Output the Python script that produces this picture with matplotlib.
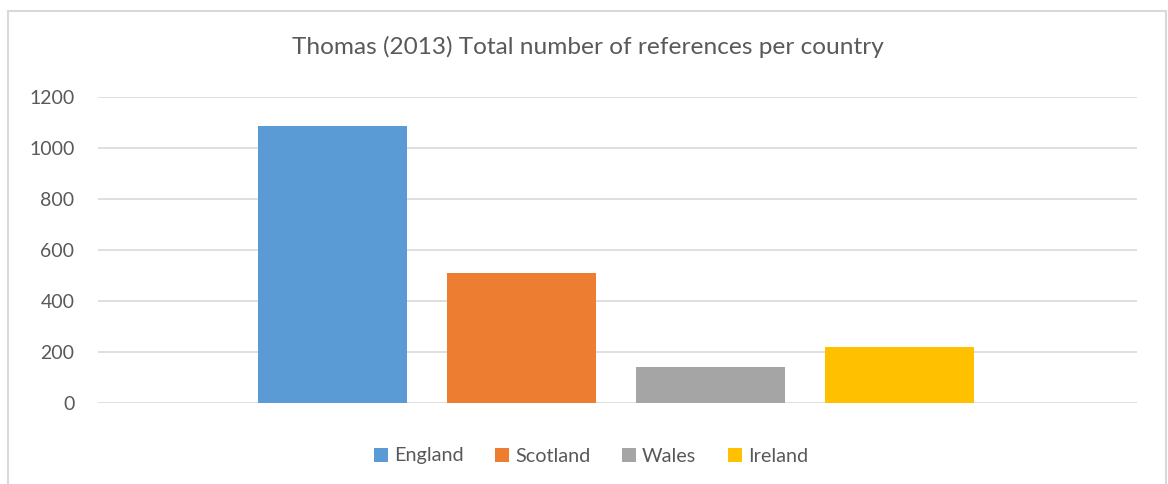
import matplotlib
matplotlib.use('Agg')
import matplotlib.pyplot as plt
from matplotlib.patches import Rectangle, Patch

plt.rcParams['font.family'] = ['Lato', 'DejaVu Sans']

TITLE = 'Thomas (2013) Total number of references per country'
countries = ['England', 'Scotland', 'Wales', 'Ireland']
counts = [1086, 511, 143, 221]
colors = ['#5b9bd5', '#ed7d31', '#a5a5a5', '#ffc000']
yticks = [0, 200, 400, 600, 800, 1000, 1200]

TXT = '#595959'
GRID = '#d9d9d9'
W, H = 1168, 484

fig = plt.figure(figsize=(W / 100, H / 100), dpi=100)
fig.patch.set_facecolor('white')

# chart frame (bottom edge is outside the picture)
fig.patches.append(Rectangle((8 / W, -0.05), (1165.5 - 8) / W, 1.05 - 11 / H,
                             transform=fig.transFigure, fill=False,
                             edgecolor=GRID, lw=1.5))

ax = fig.add_axes([98 / W, (H - 403.3) / H, (1137 - 98) / W, (403.3 - 96.7) / H])
x = list(range(len(countries)))
ax.bar(x, counts, width=149 / 189, color=colors, zorder=3)
ax.set_xlim(-235 / 189, 3 + 237.5 / 189)
ax.set_ylim(0, 1200)
ax.set_yticks(yticks)
ax.set_yticklabels([str(t) for t in yticks], fontsize=14, color=TXT)
ax.tick_params(axis='y', length=0, pad=17)
ax.set_xticks([])
ax.grid(axis='y', color=GRID, lw=1.2, zorder=0)
for s in ax.spines.values():
    s.set_visible(False)

fig.text(587.5 / W, 1 - 47 / H, TITLE, ha='center', va='center',
         fontsize=17.6, color=TXT)

handles = [Patch(facecolor=c, label=n) for c, n in zip(colors, countries)]
fig.legend(handles=handles, loc='center', bbox_to_anchor=(591 / W, 1 - 456 / H),
           ncol=4, frameon=False, fontsize=14.3, labelcolor=TXT,
           handlelength=0.7, handleheight=0.7, handletextpad=0.3,
           columnspacing=1.6)

fig.savefig('out.png', dpi=100)
